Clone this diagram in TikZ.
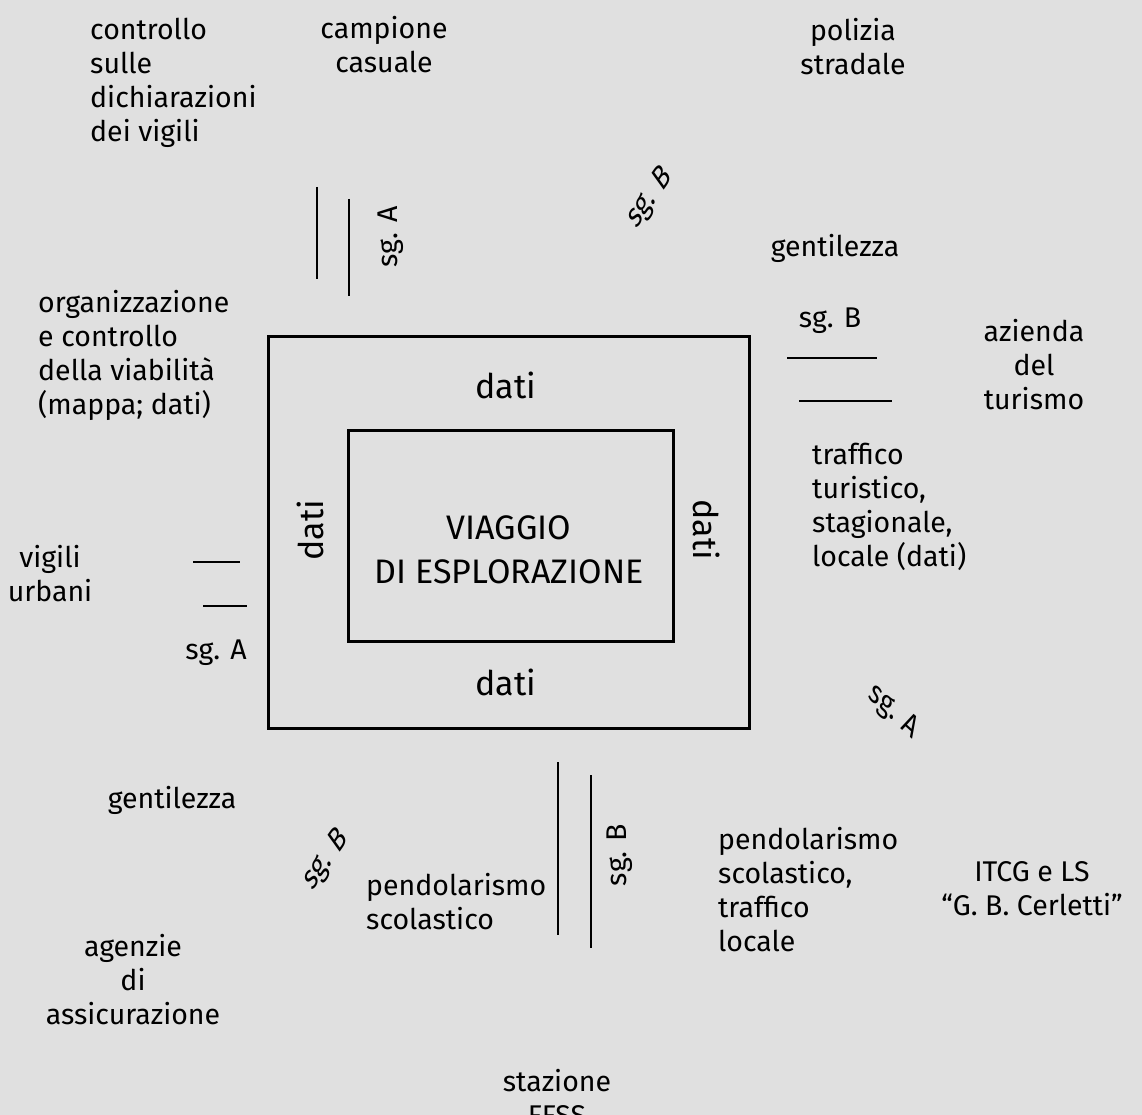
\documentclass[tikz,border=0pt]{standalone}
\usepackage{fontspec}
\setmainfont{Fira Sans}
\begin{document}
\begin{tikzpicture}[x=1pt,y=-1pt,
  txt/.style={font=\fontsize{28.5}{34}\selectfont, inner sep=0pt, align=center},
  txtl/.style={txt, align=left, anchor=west},
  big/.style={font=\fontsize{34}{44}\selectfont, inner sep=0pt, align=center},
  frame/.style={draw=black, line width=2.6pt},
  bar/.style={draw=black, line width=2.4pt}]
% background and page size
\fill[fill={rgb,255:red,224;green,224;blue,224}] (0,0) rectangle (1142,1115);
\useasboundingbox (0,0) rectangle (1142,1115);

% central frames
\node[frame, minimum width=481pt, minimum height=392pt, anchor=north west] (outer) at (267,335) {};
\node[frame, minimum width=325pt, minimum height=211pt, anchor=north west] (inner) at (347,429) {};
\node[big] (title) at (509,550) {VIAGGIO\\DI ESPLORAZIONE};
\node[big] (dtop) at (506,385) {dati};
\node[big] (dbot) at (506,682) {dati};
\node[big, rotate=90] (dleft) at (310,530) {dati};
\node[big, rotate=-90] (dright) at (707,530) {dati};

% top
\node[txtl] (controllo) at (90,83) {controllo\\sulle\\dichiarazioni\\dei vigili};
\node[txt] (campione) at (384,45) {campione\\casuale};
\node[txt] (polizia) at (853,47) {polizia\\stradale};
\coordinate (a1t) at (317,187); \coordinate (a1b) at (317,279);
\coordinate (a2t) at (349,199); \coordinate (a2b) at (349,296);
\draw[bar] (a1t) -- (a1b);
\draw[bar] (a2t) -- (a2b);
\node[txt, rotate=90] (sgAtop) at (391,237) {sg. A};
\begin{scope}[shift={(650,198)}, rotate=55, xslant=0.35, transform shape]
  \node[txt] (sgBtop) at (0,0) {sg. B};
\end{scope}

% left
\node[txtl] (organ) at (38,355) {organizzazione\\e controllo\\della viabilità\\(mappa; dati)};
\node[txt] (vigili) at (50,574) {vigili\\urbani};
\coordinate (l1a) at (193,562); \coordinate (l1b) at (240,562);
\coordinate (l2a) at (203,606); \coordinate (l2b) at (247,606);
\draw[bar] (l1a) -- (l1b);
\draw[bar] (l2a) -- (l2b);
\node[txt] (sgAleft) at (216,653) {sg. A};

% right
\node[txt] (gentR) at (835,248) {gentilezza};
\node[txt] (sgBright) at (830,321) {sg. B};
\coordinate (r1a) at (787,358); \coordinate (r1b) at (877,358);
\coordinate (r2a) at (799,401); \coordinate (r2b) at (892,401);
\draw[bar] (r1a) -- (r1b);
\draw[bar] (r2a) -- (r2b);
\node[txt] (azienda) at (1034,365) {azienda\\del\\turismo};
\node[txtl] (traffico) at (812,507) {traffico\\turistico,\\stagionale,\\locale (dati)};
\begin{scope}[shift={(893,712)}, rotate=-42, xslant=-0.3, transform shape]
  \node[txt] (sgAright) at (0,0) {sg. A};
\end{scope}

% bottom
\node[txt] (gentL) at (172,800) {gentilezza};
\begin{scope}[shift={(326,860)}, rotate=55, xslant=0.35, transform shape]
  \node[txt] (sgBleft) at (0,0) {sg. B};
\end{scope}
\node[txtl] (pendL) at (366,902) {pendolarismo\\scolastico};
\coordinate (b1t) at (558,762); \coordinate (b1b) at (558,935);
\coordinate (b2t) at (591,775); \coordinate (b2b) at (591,948);
\draw[bar] (b1t) -- (b1b);
\draw[bar] (b2t) -- (b2b);
\node[txt, rotate=90] (sgBbot) at (620,855) {sg. B};
\node[txtl] (pendR) at (718,890) {pendolarismo\\scolastico,\\traffico\\locale};
\node[txt] (itcg) at (1032,889) {ITCG e LS\\“G. B. Cerletti”};
\node[txt] (agenzie) at (133,980) {agenzie\\di\\assicurazione};
\node[txt] (stazione) at (557,1098) {stazione\\FFSS};
\end{tikzpicture}
\end{document}
